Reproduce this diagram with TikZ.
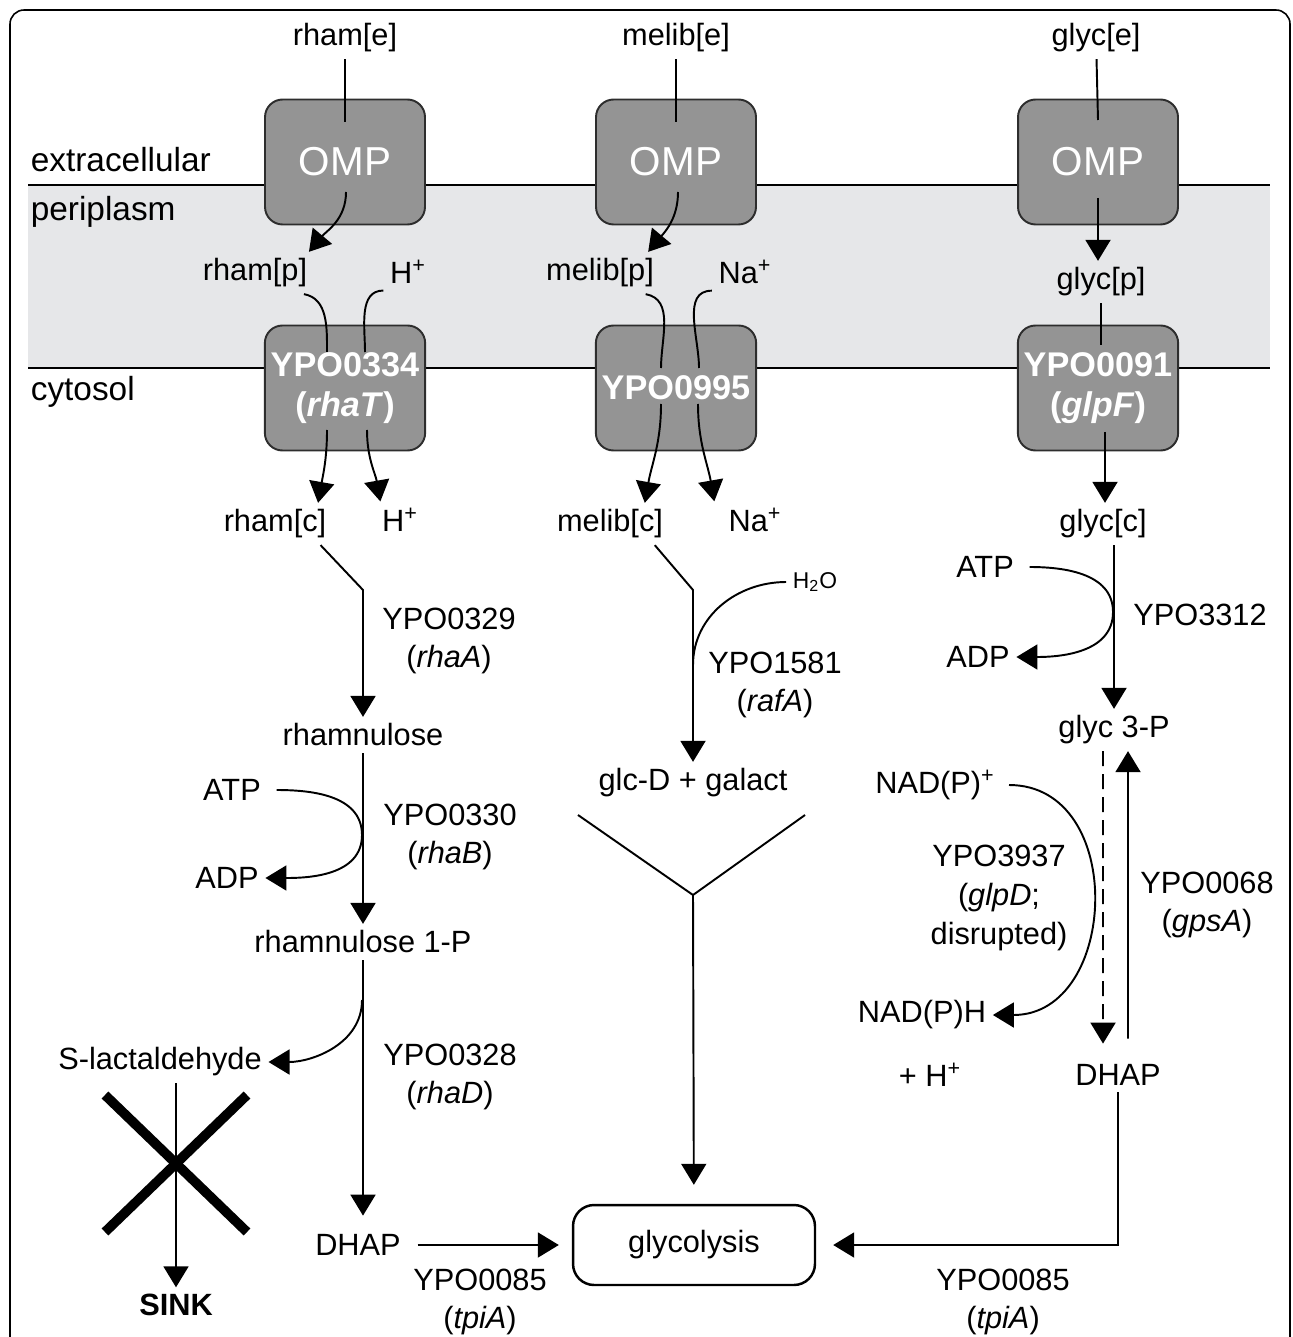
\documentclass[tikz,border=0pt]{standalone}
\usepackage{fontspec}
\setmainfont{Liberation Sans}
\usepackage{tikz}
\usetikzlibrary{arrows.meta}
\definecolor{boxgray}{RGB}{148,148,148}
\definecolor{boxedge}{RGB}{45,45,45}
\definecolor{periplasm}{RGB}{230,231,233}
\tikzstyle{omp} = [rectangle, rounded corners=10pt, minimum width=3.2cm, minimum height=2.5cm, draw=boxedge, line width=1.1pt, fill=boxgray, text=white, font=\fontsize{23}{26}\selectfont]
\tikzstyle{carrier} = [omp, align=center, font=\fontsize{19.5}{22.5}\selectfont\bfseries]
\tikzstyle{enzyme} = [align=center]
\tikzstyle{sidelabel} = [anchor=west, font=\fontsize{19}{22}\selectfont]
\tikzstyle{arrow} = [->, >={Triangle[length=0.42cm,width=0.5cm]}]

\begin{document}
\begin{tikzpicture}[x=0.02cm, y=-0.02cm, line width=1.1pt, font=\fontsize{17.5}{22}\selectfont]
		\useasboundingbox (0,0) rectangle (1293,1337);
		% frame and membranes
		\draw[line width=0.9pt, rounded corners=8pt] (10,1400) -- (10,10) -- (1290,10) -- (1290,1400);
		\fill[periplasm] (28,185) rectangle (1270,368);
		\draw (28,185) -- (1270,185);
		\draw (28,368) -- (1270,368);
		\node[sidelabel] (extra) at (24,160) {extracellular};
		\node[sidelabel] (peri) at (24,212) {periplasm};
		\node[sidelabel] (cyto) at (24,392) {cytosol};

		% transport proteins
		\node[omp] (ompL) at (345,162) {OMP};
		\node[omp] (ompM) at (676,162) {OMP};
		\node[omp] (ompR) at (1098,162) {OMP};
		\node[carrier] (rhaT) at (345,388) {YPO0334\\(\textit{rhaT})};
		\node[carrier] (melB) at (676,388) {YPO0995};
		\node[carrier] (glpF) at (1098,388) {YPO0091\\(\textit{glpF})};

		% metabolites
		\node (rhame) at (345,38) {rham[e]};
		\node (melibe) at (676,38) {melib[e]};
		\node (glyce) at (1096,38) {glyc[e]};
		\node (rhamp) at (255,273) {rham[p]};
		\node (hpL) at (408,272) {H\textsuperscript{+}};
		\node (melibp) at (600,273) {melib[p]};
		\node (nap) at (745,272) {Na\textsuperscript{+}};
		\node (glycp) at (1101,282) {glyc[p]};
		\node (rhamc) at (275,524) {rham[c]};
		\node (hcL) at (400,520) {H\textsuperscript{+}};
		\node (melibc) at (610,524) {melib[c]};
		\node (nac) at (755,520) {Na\textsuperscript{+}};
		\node (glycc) at (1103,524) {glyc[c]};
		\node (rhamnul) at (363,735) {rhamnulose};
		\node (atpL) at (232,790) {ATP};
		\node (adpL) at (227,878) {ADP};
		\node (rham1p) at (363,942) {rhamnulose 1-P};
		\node (slact) at (160,1062) {S-lactaldehyde};
		\node[font=\fontsize{17.5}{22}\selectfont\bfseries] (sink) at (176,1305) {SINK};
		\node (dhapL) at (358,1245) {DHAP};
		\node[draw, rounded corners=12pt, minimum width=4.84cm, minimum height=1.6cm, line width=1.4pt] (glyco) at (694,1245) {glycolysis};
		\node (h2o) at (815,582) {\fontsize{13}{15}\selectfont H\textsubscript{2}O};
		\node (glcgal) at (693,783) {glc-D + galact};
		\node (atpR) at (985,567) {ATP};
		\node (adpR) at (978,657) {ADP};
		\node (glyc3p) at (1114,730) {glyc 3-P};
		\node (nadp) at (935,785) {NAD(P)\textsuperscript{+}};
		\node (nadph) at (922,1015) {NAD(P)H};
		\node (hplus) at (930,1075) {+ H\textsuperscript{+}};
		\node (dhapR) at (1118,1075) {DHAP};

		% enzymes
		\node[enzyme] (rhaA) at (449,641) {YPO0329\\(\textit{rhaA})};
		\node[enzyme] (rhaB) at (450,837) {YPO0330\\(\textit{rhaB})};
		\node[enzyme] (rhaD) at (450,1077) {YPO0328\\(\textit{rhaD})};
		\node[enzyme] (tpiAL) at (480,1302) {YPO0085\\(\textit{tpiA})};
		\node[enzyme] (rafA) at (775,685) {YPO1581\\(\textit{rafA})};
		\node[enzyme] (glpK) at (1200,615) {YPO3312};
		\node[enzyme] (glpD) at (999,898) {YPO3937\\(\textit{glpD};\\disrupted)};
		\node[enzyme] (gpsA) at (1207,905) {YPO0068\\(\textit{gpsA})};
		\node[enzyme] (tpiAR) at (1003,1302) {YPO0085\\(\textit{tpiA})};

		% points on the lines
		\coordinate (ompLin) at (345,122);
		\coordinate (ompLout) at (346,192);
		\coordinate (ompMin) at (676,122);
		\coordinate (ompMout) at (678,192);
		\coordinate (ompRin) at (1098,120);
		\coordinate (ompRout) at (1098,198);
		\coordinate (tLa) at (327,352);
		\coordinate (tLb) at (365,352);
		\coordinate (tLc) at (327,430);
		\coordinate (tLd) at (367,430);
		\coordinate (tMa) at (661,368);
		\coordinate (tMb) at (699,368);
		\coordinate (tMc) at (661,404);
		\coordinate (tMd) at (698,404);
		\coordinate (tRa) at (1101,345);
		\coordinate (tRb) at (1105,432);
		\coordinate (kinkL) at (363,590);
		\coordinate (touchL) at (362,835);
		\coordinate (brL) at (362,1000);
		\coordinate (kinkM) at (693,590);
		\coordinate (joinM) at (693,665);
		\coordinate (yL) at (578,815);
		\coordinate (yM) at (693,895);
		\coordinate (yR) at (805,815);
		\coordinate (touchR) at (1113,612);

		% rhamnose
		\draw (rhame) -- (ompLin);
		\draw [arrow] (ompLout) to[out=-90,in=50] ([xshift=-0.1cm]rhamp.north east);
		\draw ([xshift=-0.2cm]rhamp.south east) to[out=-10,in=90] (tLa);
		\draw (hpL.south west) to[out=180,in=90] (tLb);
		\draw [arrow] (tLc) to[out=-90,in=80] ([xshift=-0.3cm]rhamc.north east);
		\draw [arrow] (tLd) to[out=-90,in=100] ([xshift=0.1cm]hcL.north west);
		\draw [arrow] ([xshift=-0.25cm]rhamc.south east) -- (kinkL) -- (rhamnul);
		\draw [arrow] (rhamnul) -- (rham1p);
		\draw [arrow, shorten <=0.18cm] (atpL) to[out=0,in=90] (touchL) to[out=-90,in=0] (adpL);
		\draw [arrow, shorten >=0.24cm] (rham1p) -- (rham1p |- dhapL.north);
		\draw [arrow] (brL) to[out=-90,in=0] (slact);
		\draw [arrow] (slact.south -| sink) -- (sink);
		\draw [line width=5.5pt] (105,1095) -- (247,1232) (247,1095) -- (105,1232);
		\draw [arrow, shorten <=0.2cm, shorten >=0.26cm] (dhapL) -- (glyco);

		% melibiose
		\draw (melibe) -- (ompMin);
		\draw [arrow] (ompMout) to[out=-90,in=50] ([xshift=-0.25cm]melibp.north east);
		\draw ([xshift=-0.3cm]melibp.south east) to[out=-10,in=90] (tMa);
		\draw (nap.south west) to[out=180,in=90] (tMb);
		\draw [arrow] (tMc) to[out=-90,in=80] ([xshift=-0.5cm]melibc.north east);
		\draw [arrow] (tMd) to[out=-90,in=100] ([xshift=-0.15cm]nac.north west);
		\draw [arrow] ([xshift=-0.3cm]melibc.south east) -- (kinkM) -- (glcgal);
		\draw (h2o) to[out=180,in=90] (joinM);
		\draw (yL) -- (yM) -- (yR);
		\draw [arrow, shorten >=0.38cm] (yM) -- (glyco);

		% glycerol
		\draw (glyce) -- (ompRin);
		\draw [arrow] (ompRout) -- (ompRout |- glycp.north);
		\draw (glycp) -- (tRa);
		\draw [arrow] (tRb) -- (tRb |- glycc.north);
		\draw [arrow] (glycc.south -| glyc3p) -- (glyc3p);
		\draw [arrow, shorten <=0.18cm] (atpR) to[out=0,in=90] (touchR) to[out=-90,in=0] (adpR);
		\draw [arrow, dash pattern=on 0.3cm off 0.16cm, shorten >=0.28cm] ([xshift=-0.22cm]glyc3p.south) -- ([xshift=-0.3cm]dhapR.north);
		\draw [arrow, shorten <=0.38cm] ([xshift=0.2cm]dhapR.north) -- ([xshift=0.28cm]glyc3p.south);
		\draw [arrow, shorten <=0.15cm] (nadp) to[out=0,in=0,looseness=1.4] (nadph);
		\draw [arrow, shorten >=0.34cm] (dhapR) |- (glyco);
\end{tikzpicture}
\end{document}
